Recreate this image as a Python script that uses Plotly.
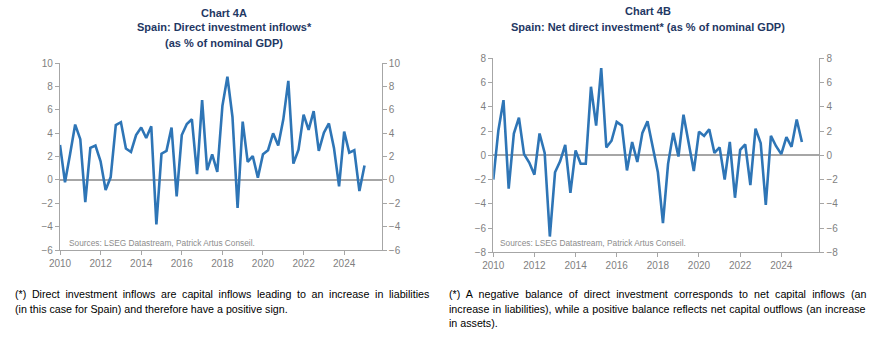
import plotly.graph_objects as go

quarters = [f"{y}-{m:02d}-01" for y in range(2010, 2026) for m in (1, 4, 7, 10)][:61]

inflows = [3.0, -0.2, 2.2, 4.75, 3.5, -1.9, 2.75, 2.95, 1.6, -0.85, 0.25, 4.7, 4.95, 2.7, 2.4, 3.85,
           4.5, 3.6, 4.6, -3.8, 2.25, 2.5, 4.5, -1.4, 3.85, 4.8, 5.2, 0.5, 6.85, 0.85, 2.2, 0.7,
           6.35, 8.85, 5.4, -2.4, 5.0, 1.55, 2.05, 0.2, 2.2, 2.55, 4.0, 2.95, 5.2, 8.5, 1.4, 2.6,
           5.6, 4.3, 5.9, 2.5, 4.05, 4.85, 2.75, -0.55, 4.15, 2.35, 2.55, -0.95, 1.25]

net_fdi = [-2.0, 2.05, 4.55, -2.75, 1.8, 3.1, 0.1, -0.6, -1.6, 1.8, 0.2, -6.7, -1.4, -0.5, 0.85, -3.1,
           0.4, -0.7, -0.7, 5.65, 2.45, 7.2, 0.65, 1.2, 2.75, 2.45, -1.25, 1.1, -0.55, 1.85, 2.8, 0.55,
           -1.4, -5.6, -0.7, 1.85, -0.1, 3.35, 1.0, -1.3, 1.95, 1.6, 2.15, 0.2, 0.65, -2.0, 1.1, -3.5,
           0.45, 0.9, -2.45, 2.2, 1.0, -4.1, 1.6, 0.75, 0.1, 1.5, 0.7, 2.95, 1.1]

left_ticks = [-6, -4, -2, 0, 2, 4, 6, 8, 10]
right_ticks = [-8, -6, -4, -2, 0, 2, 4, 6, 8]

W, H = 891, 362
FONT = "Liberation Sans, Arial, sans-serif"
LINE = "#2E75B6"
AX = "#A6A6A6"
TXT = "#7F7F7F"
NAVY = "#1F3864"

def px(x):
    return x / W

def py(y):
    return 1 - y / H

fig = go.Figure()
fig.add_trace(go.Scatter(x=quarters, y=inflows, mode="lines", line=dict(color=LINE, width=2.6),
                         xaxis="x", yaxis="y", showlegend=False))
fig.add_trace(go.Scatter(x=[quarters[0]], y=[None], mode="lines", xaxis="x", yaxis="y2",
                         showlegend=False, hoverinfo="skip"))
fig.add_trace(go.Scatter(x=quarters, y=net_fdi, mode="lines", line=dict(color=LINE, width=2.6),
                         xaxis="x2", yaxis="y3", showlegend=False))
fig.add_trace(go.Scatter(x=[quarters[0]], y=[None], mode="lines", xaxis="x2", yaxis="y4",
                         showlegend=False, hoverinfo="skip"))

xcommon = dict(type="date", range=["2010-01-01", "2025-11-06"], tick0="2010-01-01", dtick="M24",
               tickformat="%Y", showline=True, linecolor=AX, linewidth=1.3, ticks="outside",
               ticklen=4, tickcolor=AX, showgrid=False, zeroline=False, automargin=False,
               tickfont=dict(family=FONT, size=10, color=TXT))

def ycommon(rng, ticks, side):
    return dict(range=rng, tickvals=ticks, showline=True, linecolor=AX, linewidth=1.3,
                ticks="outside", ticklen=4, tickcolor=AX, showgrid=False, side=side,
                automargin=False, tickfont=dict(family=FONT, size=10, color=TXT), fixedrange=True)

yl = ycommon([-6, 10], left_ticks, "left")
yl.update(zeroline=True, zerolinecolor=AX, zerolinewidth=1.5, domain=[py(250), py(63.3)])
yl2 = ycommon([-6, 10], left_ticks, "right")
yl2.update(overlaying="y", anchor="x", zeroline=False)

yr = ycommon([-8, 8], right_ticks, "left")
yr.update(zeroline=True, zerolinecolor=AX, zerolinewidth=1.5, domain=[py(252.3), py(58.3)],
          anchor="x2")
yr2 = ycommon([-8, 8], right_ticks, "right")
yr2.update(overlaying="y3", anchor="x2", zeroline=False)

fig.update_layout(
    width=W, height=H, margin=dict(l=0, r=0, t=0, b=0, autoexpand=False),
    paper_bgcolor="white", plot_bgcolor="white",
    xaxis=dict(xcommon, domain=[px(60), px(381.7)], anchor="y"),
    xaxis2=dict(xcommon, domain=[px(493.3), px(819.3)], anchor="y3"),
    yaxis=yl, yaxis2=yl2, yaxis3=yr, yaxis4=yr2,
    font=dict(family=FONT),
    hovermode=False,
)

annots = [
    ("<b>Chart 4A</b>", 224, 12.7),
    ("<b>Spain: Direct investment inflows*</b>", 224, 27.2),
    ("<b>(as % of nominal GDP)</b>", 224, 43),
    ("<b>Chart 4B</b>", 648, 11),
    ("<b>Spain: Net direct investment* (as % of nominal GDP)</b>", 648, 26.7),
]
for text, x, y in annots:
    fig.add_annotation(text=text, x=px(x), y=py(y), xref="paper", yref="paper", showarrow=False,
                       xanchor="center", yanchor="middle", font=dict(family=FONT, size=11, color=NAVY))

for x0 in (66.5, 498):
    fig.add_annotation(text="Sources: LSEG Datastream, Patrick Artus Conseil.", x=px(x0), y=py(242.5),
                       xref="paper", yref="paper", showarrow=False, xanchor="left", yanchor="middle",
                       font=dict(family=FONT, size=8.3, color="#8C8C8C"))

notes_left = [
    ("(*) Direct investment inflows are capital inflows leading to an increase in liabilities", 2.65),
    ("(in this case for Spain) and therefore have a positive sign.", 0),
]
notes_right = [
    ("(*) A negative balance of direct investment corresponds to net capital inflows (an", 3.2),
    ("increase in liabilities), while a positive balance reflects net capital outflows (an increase", 0.5),
    ("in assets).", 0),
]

def note(t, ws, x, y):
    txt = f'<span style="word-spacing:{ws}px">{t}</span>' if ws else t
    fig.add_annotation(text=txt, x=px(x), y=py(y), xref="paper", yref="paper",
                       showarrow=False, xanchor="left", yanchor="middle",
                       font=dict(family=FONT, size=10.7, color="#000000"))

for i, (t, ws) in enumerate(notes_left):
    note(t, ws, 12.5, 294 + i * 14.5)
for i, (t, ws) in enumerate(notes_right):
    note(t, ws, 447, 294 + i * 14.5)

fig.write_html("out.html", config={"displayModeBar": False},
               post_script="document.body.style.margin='0';document.body.style.padding='0';")
